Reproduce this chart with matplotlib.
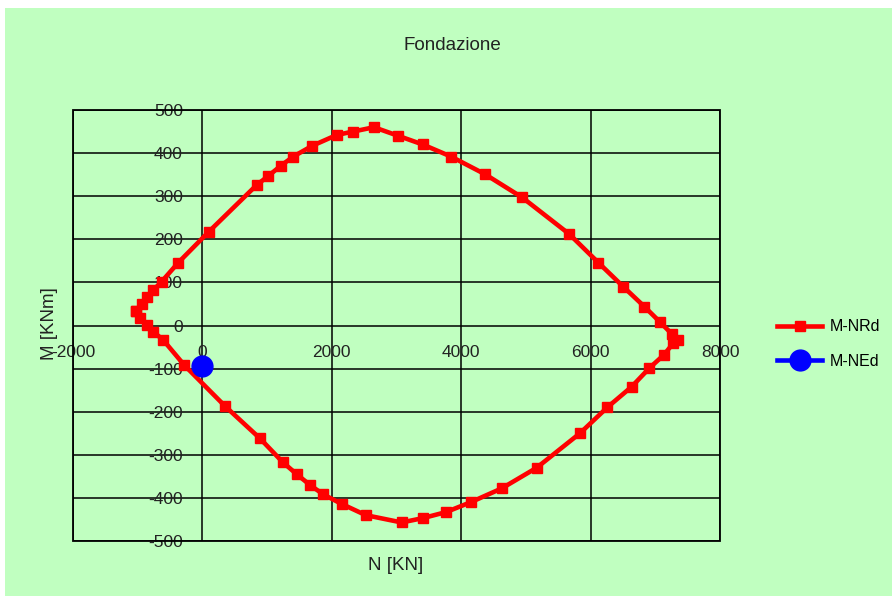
import matplotlib
matplotlib.use("Agg")
import matplotlib.pyplot as plt
from matplotlib.patches import Rectangle

# M-NRd interaction domain (N [KN], M [KNm])
n_rd = [-1026, -938, -861, -759, -629, -372, 102, 839, 1019, 1215, 1405, 1699,
        2075, 2330, 2652, 3028, 3405, 3842, 4368, 4944, 5671, 6119, 6505, 6830,
        7073, 7258, 7355, 7278, 7134, 6907, 6635, 6258, 5836, 5167, 4626, 4147,
        3765, 3405, 3080, 2524, 2153, 1869, 1663, 1457, 1241, 890, 349, -280,
        -604, -759, -861, -964, -1026]
m_rd = [34, 51, 67, 82, 102, 146, 218, 326, 347, 371, 392, 417,
        442, 450, 460, 440, 420, 392, 351, 297, 212, 146, 90, 44,
        8, -20, -33, -41, -68, -99, -142, -190, -250, -330, -378, -410,
        -433, -447, -457, -440, -414, -392, -370, -345, -317, -262, -187, -92,
        -34, -14, 1, 17, 34]

# Design action M-NEd
n_ed = [0]
m_ed = [-94]

x_ticks = [-2000, 0, 2000, 4000, 6000, 8000]
y_ticks = [-500, -400, -300, -200, -100, 0, 100, 200, 300, 400, 500]

bg = "#C0FFC0"
plt.rcParams['font.family'] = ['Liberation Sans', 'DejaVu Sans']
plt.rcParams['axes.unicode_minus'] = False

fig = plt.figure(figsize=(8.92, 5.96), dpi=100, facecolor="white")
fig.patches.append(Rectangle((5/892, 0), 1 - 5/892, 1 - 8/596, transform=fig.transFigure,
                             facecolor=bg, edgecolor="none", zorder=-10))

ax = fig.add_axes([73/892, 55/596, 647/892, 431/596])
ax.set_facecolor(bg)
ax.set_xlim(-2000, 8000)
ax.set_ylim(-500, 500)
ax.set_xticks(x_ticks)
ax.set_yticks(y_ticks)
ax.grid(True, color="black", linewidth=1.1)
ax.set_axisbelow(True)

for s in ax.spines.values():
    s.set_visible(False)
ax.spines['bottom'].set_position(('data', 0))
ax.spines['left'].set_position(('data', 0))
ax.add_patch(Rectangle((0, 0), 1, 1, transform=ax.transAxes, fill=False,
                       edgecolor="black", linewidth=1.3, clip_on=False, zorder=1))

ax.tick_params(axis='both', length=0, labelsize=12.5, colors="#222222")
ax.tick_params(axis='x', pad=14)
ax.tick_params(axis='y', pad=14)

ax.plot(n_rd, m_rd, color="red", linewidth=3.3, marker="s", markersize=7.5,
        label="M-NRd", zorder=3, clip_on=False)
ax.plot(n_ed, m_ed, color="blue", linewidth=3.3, marker="o", markersize=15,
        label="M-NEd", zorder=4, clip_on=False)

fig.text(452/892, 1 - 45/596, "Fondazione", ha="center", va="center", fontsize=13.5, color="#222222")
fig.text(396/892, 1 - 565/596, "N [KN]", ha="center", va="center", fontsize=13.5, color="#222222")
fig.text(50/892, 1 - 324/596, "M [KNm]", ha="center", va="center", rotation=90, fontsize=13.5, color="#222222")

leg = fig.legend(loc="center left", bbox_to_anchor=(763/892, 1 - 344/596), frameon=False,
                 fontsize=11.5, handlelength=2.8, labelspacing=1.2, handletextpad=0.5)

fig.savefig("out.png", dpi=100, facecolor=fig.get_facecolor())
